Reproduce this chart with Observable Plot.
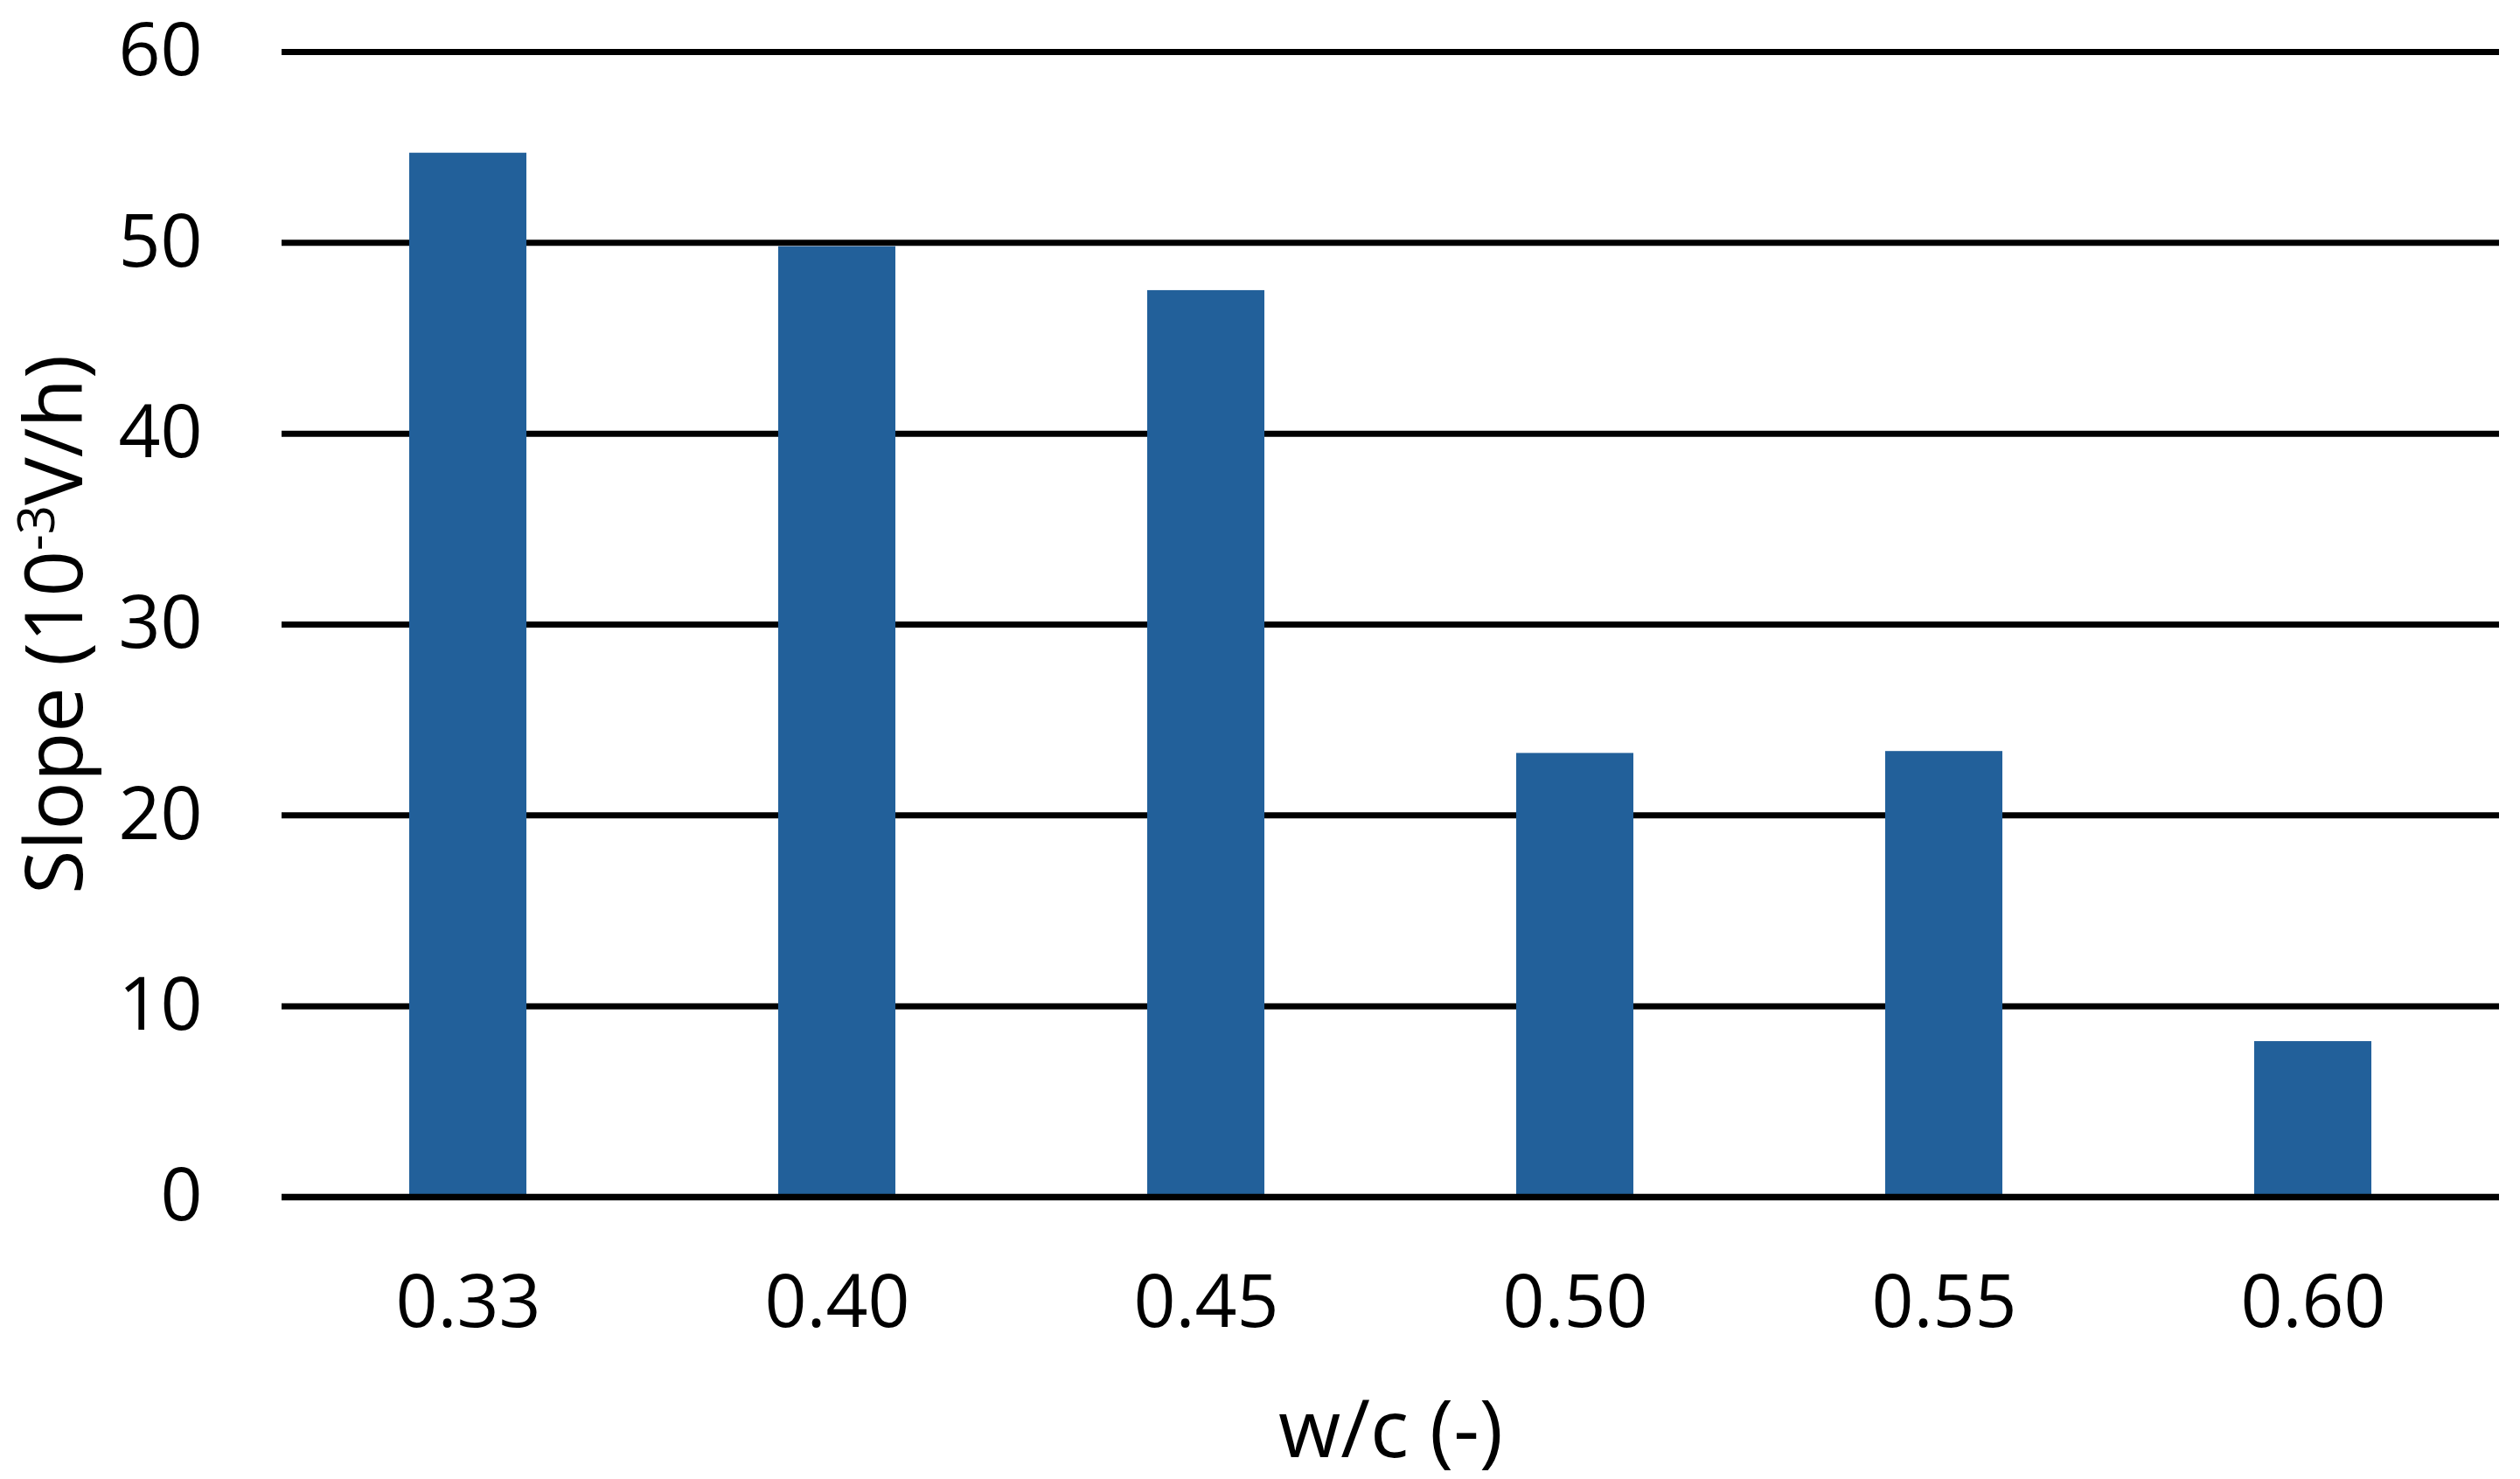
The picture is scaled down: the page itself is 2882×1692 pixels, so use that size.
<!DOCTYPE html>
<html><head><meta charset="utf-8">
<script src="https://cdn.jsdelivr.net/npm/d3@7"></script>
<script src="https://cdn.jsdelivr.net/npm/@observablehq/plot@0.6"></script>
<style>body{margin:0;background:#fff;}</style>
</head><body><div id="chart"></div>
<script>
const categories = ["0.33", "0.40", "0.45", "0.50", "0.55", "0.60"];
const slopes = [54.7, 49.8, 47.5, 23.25, 23.35, 8.15];
const yTicks = [0, 10, 20, 30, 40, 50, 60];
const xLabel = "w/c (-)";
const yLabelMain = "Slope (10";
const yLabelSup = "-3";
const yLabelRest = "V/h)";
const yLabelFull = yLabelMain + yLabelSup + yLabelRest;

const data = categories.map((c, i) => ({wc: c, slope: slopes[i]}));

const chart = Plot.plot({
  width: 2882, height: 1692,
  marginLeft: 322, marginRight: 24, marginTop: 59, marginBottom: 323,
  style: {fontFamily: "'Open Sans', sans-serif", fontSize: "84px", color: "#000", background: "#fff", overflow: "visible"},
  x: {domain: categories, paddingInner: 0.683, paddingOuter: 0.3415, align: 0.5},
  y: {domain: [0, 60]},
  marks: [
    Plot.ruleY(yTicks.slice(1), {stroke: "#000", strokeWidth: 7}),
    Plot.barY(data, {x: "wc", y: "slope", fill: "#22609a"}),
    Plot.ruleY([0], {stroke: "#000", strokeWidth: 7.5}),
    Plot.axisX({tickSize: 0, tickPadding: 89, label: null, fontSize: 84}),
    Plot.axisY({ticks: yTicks, tickSize: 0, tickPadding: 91, label: null, fontSize: 84}),
    Plot.text([xLabel], {frameAnchor: "bottom", dy: 268, fontSize: 92, lineAnchor: "middle", fill: "#000"}),
    Plot.text([yLabelFull], {frameAnchor: "left", dx: -258, rotate: -90, textAnchor: "middle", fontSize: 92, lineAnchor: "middle", fill: "#000"})
  ]
});

d3.select(chart).selectAll("text")
  .filter(function() { return this.textContent === yLabelFull; })
  .each(function() {
    const t = d3.select(this);
    t.text(null);
    t.append("tspan").text(yLabelMain);
    t.append("tspan").attr("dy", "-32").attr("font-size", "58").text(yLabelSup);
    t.append("tspan").attr("dy", "32").text(yLabelRest);
  });

document.getElementById("chart").appendChild(chart);
</script>
</body></html>
